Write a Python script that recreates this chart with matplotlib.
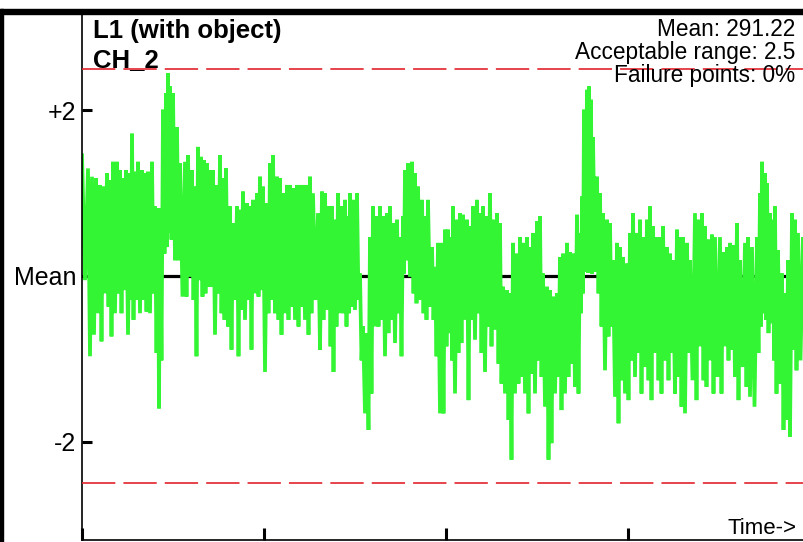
import numpy as np
import matplotlib
matplotlib.use("Agg")
import matplotlib.pyplot as plt
from matplotlib.patches import Rectangle

plt.rcParams['font.family'] = ['Liberation Sans', 'DejaVu Sans']
plt.rcParams['lines.scale_dashes'] = False

# ---- data (deviation from mean, in units of the acceptable-range scale) ----
time_pts = [0, 6, 10, 14, 18, 21, 25, 28, 31, 35, 38, 41, 44, 48, 50, 53, 56, 60, 63, 66,
            70, 73, 76, 78, 81, 84, 86, 88, 91, 95, 98, 103, 106, 110, 113, 116, 119,
            122, 125, 128, 131, 135, 138, 141, 144, 148, 151, 155, 158, 161, 165, 168, 171,
            175, 178, 181, 185, 188, 191, 195, 198, 201, 205, 208, 211, 215, 218, 221, 225,
            228, 231, 236, 240,
            243, 247, 250, 253, 256, 260, 263, 266, 268, 271, 275, 278, 281, 285, 288, 291,
            295, 298, 301, 305, 308, 311, 315, 318, 321, 323, 326, 330, 333, 336, 340, 343,
            346, 350, 353, 356,
            360, 363, 366, 369, 371, 375, 378, 381, 385, 388, 391, 395, 398, 401, 405, 408,
            411, 415, 418, 421, 425, 428, 431, 435, 438, 441, 445, 448, 451, 455, 458, 461,
            465, 468, 471, 475, 478,
            481, 485, 488, 491, 495, 498, 500, 502, 505, 507, 509, 511, 515, 518, 521, 525,
            528, 531, 535, 538, 541, 545, 548, 551, 555, 558, 561, 565, 568, 571, 575, 578,
            581, 585, 588, 591, 595, 598,
            601, 605, 608, 613, 616, 620, 623, 626, 630, 633, 638, 641, 645, 648, 651, 655,
            658, 663, 666, 670, 675, 678, 680, 683, 685, 688, 691, 693, 696, 700, 703, 706,
            710, 713, 716, 721]

peak_vals = [1.46, 1.30, 1.20, 1.18, 1.10, 1.08, 1.24, 1.16, 1.38, 1.38, 1.28, 1.18, 1.28, 1.24,
             1.72, 1.26, 1.38, 1.28, 1.24, 1.26, 1.38, 0.84, 0.82, 0.82, 2.01, 2.21, 2.45, 2.29,
             2.21, 1.80, 1.36, 1.38, 1.46, 1.28, 1.08, 1.56, 1.44,
             1.40, 1.36, 1.28, 1.28, 1.10, 1.46, 1.18, 1.30, 0.84, 0.64, 0.84, 0.80, 1.02, 0.88,
             0.84, 0.92, 1.00, 1.20, 1.08, 0.88, 1.36, 1.46, 1.20, 1.18, 1.00, 1.10, 1.10, 1.06,
             1.10, 1.10, 1.10, 1.10, 1.20, 1.00, 0.76, 1.02,
             1.00, 0.84, 0.84, 0.68, 1.00, 0.84, 0.92, 0.72, 1.00, 0.92, 1.00, 0.03, -0.61, -0.69,
             0.47, 0.84, 0.72, 0.84, 0.72, 0.76, 0.84, 0.64, 0.68, 0.47, 0.72, 1.28, 1.36, 1.38,
             1.24, 1.08, 0.92, 0.72, 0.92, 0.35, 0.11, 0.40,
             0.40, 0.56, 0.56, 0.47, 0.84, 0.68, 0.76, 0.74, 0.68, 0.60, 0.84, 0.92, 0.76, 0.84,
             0.72, 1.00, 0.68, 0.76, 0.64, -0.13, -0.17, -0.21, 0.40, 0.27, 0.47, 0.40, 0.47, 0.35,
             0.52, 0.66, 0.72, 0.03, -0.13, -0.17, -0.25, -0.21, 0.23,
             0.27, 0.40, 0.29, 0.27, 0.74, 0.52, 0.96, 2.01, 2.25, 2.29, 2.13, 1.68, 1.20, 1.00,
             0.76, 0.68, 0.64, 0.19, 0.40, 0.35, 0.23, 0.15, 0.52, 0.76, 0.52, 0.68, 0.47, 0.68,
             0.84, 0.60, 0.47, 0.47, 0.60, 0.35, 0.27, 0.19, 0.56, 0.47,
             0.47, 0.40, 0.19, 0.76, 0.68, 0.76, 0.60, 0.44, 0.50, 0.47, 0.47, 0.29, 0.35, 0.40,
             0.37, 0.64, 0.19, 0.40, 0.47, 0.35, 0.47, 1.00, 1.38, 1.24, 1.12, 0.76, 0.68, 0.84,
             0.31, 0.03, -0.21, 0.19, 0.76, 0.68, 0.52, 0.47]

trough_vals = [-0.05, -0.97, -0.71, -0.45, -0.79, -0.21, -0.37, -0.73, -0.45, -0.21, -0.45, -0.17,
               -0.71, -0.29, -0.53, -0.29, -0.45, -0.29, -0.43, -0.45, -0.21, -0.93, -1.60, -1.02,
               0.27, 0.35, 0.52, 0.44, 0.19, 0.19, -0.25, -0.25, -0.01, -0.29, -0.97, -0.05, -0.25,
               -0.21, -0.13, -0.13, -0.71, -0.21, -0.45, -0.53, -0.61, -0.89, -0.29, -0.97, -0.41,
               -0.53, -0.29, -0.89, -0.21, -0.25, -0.17, -1.16, -0.45, -0.29, -0.45, -0.53, -0.71,
               -0.45, -0.53, -0.37, -0.53, -0.61, -0.37, -0.53, -0.71, -0.45, -0.29, -0.89, -0.53,
               -0.41, -0.85, -1.16, -0.61, -0.45, -0.45, -0.61, -0.45, -0.37, -0.41, -0.29, -1.02,
               -1.66, -1.86, -1.42, -0.61, -0.61, -0.53, -0.97, -0.69, -0.53, -0.81, -0.45, -0.97,
               0.03, 0.19, -0.01, -0.21, -0.33, -0.29, -0.45, -0.53, -0.37, -0.53, -0.97, -1.66,
               -1.66, -0.85, -0.69, -1.02, -1.42, -0.93, -0.81, -0.53, -1.50, -0.53, -0.77, -0.45,
               -0.93, -1.16, -0.61, -0.85, -0.65, -1.06, -1.30, -1.42, -1.74, -2.22, -1.42, -1.30,
               -1.22, -1.42, -1.66, -1.18, -1.42, -1.02, -1.22, -1.58, -2.22, -2.02, -1.42, -1.22,
               -1.62,
               -1.42, -1.22, -1.06, -1.34, -1.42, -0.45, -0.21, 0.05, 0.04, 0.06, 0.03, 0.05,
               -0.21, -0.61, -1.14, -0.73, -0.61, -1.46, -1.78, -1.26, -1.42, -1.50, -1.02, -1.22,
               -0.93, -1.42, -1.10, -1.26, -1.50, -0.93, -1.26, -1.42, -1.02, -1.26, -0.93, -1.42,
               -1.22, -1.58,
               -1.66, -0.93, -1.26, -1.50, -0.85, -1.26, -1.34, -1.02, -1.42, -1.22, -1.42, -0.85,
               -1.02, -0.89, -1.22, -1.50, -1.10, -1.34, -1.46, -1.58, -0.93, -0.61, -0.45, -0.53,
               -0.69, -0.57, -1.02, -1.42, -1.30, -1.86, -1.74, -1.94, -0.89, -1.14, -1.02, -0.85]

mean_value = 291.22
acceptable_range = 2.5
limit_level = 2.5
ytick_vals = [2, 0, -2]
ytick_labels = ['+2', 'Mean', '-2']
time_ticks = [0, 182, 364, 546]

# ---- build alternating signal (peak, trough, peak, trough ...) ----
t = np.asarray(time_pts, dtype=float)
t_tr = np.append((t[1:] + t[:-1]) / 2.0, t[-1] + 1.5)
sig_t = np.column_stack([t, t_tr]).ravel()
sig_v = np.column_stack([peak_vals, trough_vals]).ravel()

W, H = 804, 542
fig = plt.figure(figsize=(W / 100, H / 100), dpi=100)
fig.patch.set_facecolor('white')

ax_left = 82 / W
ax_bottom = 2 / H
ax_top = 1 - 14 / H
ax = fig.add_axes([ax_left, ax_bottom, 1 - ax_left, ax_top - ax_bottom])

# y mapping: mean at pixel 276, 82.75 px per unit
ppu = 82.75
y_lo = (276 - 540) / ppu
y_hi = (276 - 14) / ppu
ax.set_ylim(y_lo, y_hi)
ax.set_xlim(0, 722)

ax.axhline(0, color='black', lw=2.3, zorder=1)
ax.plot(sig_t, sig_v, color='#33f533', lw=2.7, solid_joinstyle='bevel', zorder=2)
for lv in (limit_level, -limit_level):
    ax.axhline(lv, color='#e3232b', lw=1.2, dashes=(24, 5.8), zorder=3)

ax.set_yticks(ytick_vals)
ax.set_yticklabels(ytick_labels, fontsize=18)
ax.set_xticks(time_ticks)
ax.set_xticklabels([])
ax.tick_params(axis='y', direction='in', length=7, width=2.2, pad=4)
ax.tick_params(axis='x', direction='in', length=9, width=2.2)

for s in ('top', 'right'):
    ax.spines[s].set_visible(False)
ax.spines['left'].set_linewidth(1.2)
ax.spines['bottom'].set_linewidth(1.2)

# annotations
fig.text(93 / W, 1 - 38 / H, 'L1 (with object)', fontsize=18.5, fontweight='bold',
         ha='left', va='baseline')
fig.text(93 / W, 1 - 67 / H, 'CH_2', fontsize=18.5, fontweight='bold',
         ha='left', va='baseline')
fig.text(795 / W, 1 - 36 / H, f'Mean: {mean_value:.2f}', fontsize=16.3, ha='right', va='baseline')
fig.text(795 / W, 1 - 59 / H, f'Acceptable range: {acceptable_range}', fontsize=16.3,
         ha='right', va='baseline')
fig.text(795 / W, 1 - 82 / H, 'Failure points: 0%', fontsize=16.3, ha='right', va='baseline')
fig.text(797 / W, 1 - 534 / H, 'Time->', fontsize=16, ha='right', va='baseline')

# outer frame pieces
fig.add_artist(Rectangle((0, 1 - 14 / H), 1, 5 / H, transform=fig.transFigure,
                         color='black', zorder=10))
fig.add_artist(Rectangle((0, 0), 3 / W, 1 - 9 / H, transform=fig.transFigure,
                         color='black', zorder=10))

fig.savefig('out.png', dpi=100)
